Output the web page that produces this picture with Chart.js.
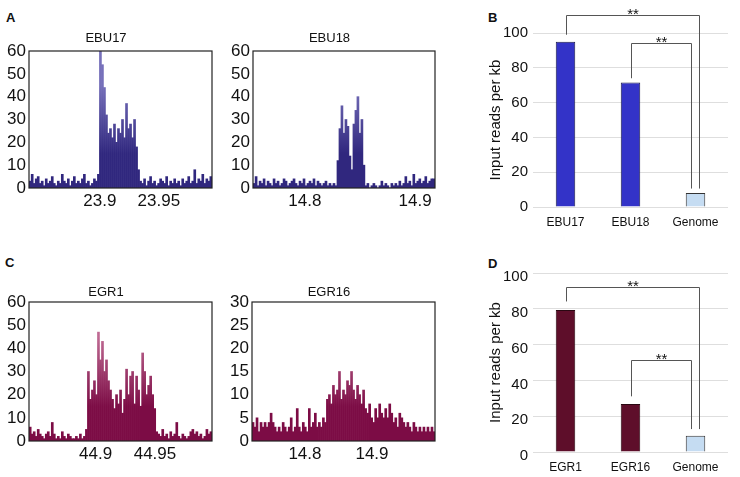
<!DOCTYPE html>
<html>
<head>
<meta charset="utf-8">
<script src="https://cdn.jsdelivr.net/npm/chart.js@4.4.1/dist/chart.umd.min.js"></script>
<style>
  body { margin: 0; background: #fff; width: 740px; height: 477px; position: relative; overflow: hidden; font-family: "Liberation Sans", Arial, sans-serif; }
  .p { position: absolute; }
  .lbl { position: absolute; font-weight: bold; font-size: 13px; line-height: 13px; color: #111; }
</style>
</head>
<body>
<div class="lbl" style="left:6px;top:11px">A</div>
<div class="lbl" style="left:488px;top:11px">B</div>
<div class="lbl" style="left:5px;top:256px">C</div>
<div class="lbl" style="left:488px;top:257px">D</div>

<div class="p" style="left:0;top:25px"><canvas id="ebu17" width="220" height="190"></canvas></div>
<div class="p" style="left:224px;top:25px"><canvas id="ebu18" width="220" height="190"></canvas></div>
<div class="p" style="left:460px;top:0"><canvas id="ebuBar" width="280" height="235"></canvas></div>
<div class="p" style="left:0;top:276px"><canvas id="egr1" width="220" height="192"></canvas></div>
<div class="p" style="left:223px;top:276px"><canvas id="egr16" width="221" height="192"></canvas></div>
<div class="p" style="left:460px;top:240px"><canvas id="egrBar" width="280" height="237"></canvas></div>

<script>
const FONT = '"Liberation Sans", Arial, sans-serif';

// coverage tracks: reads per bin (left to right), bin start (Mb) and bin size (Mb)
const ebu17Range = [23.84, 23.995];
const ebu17Start = 23.841, ebu17Bin = 0.0017;
const ebu17Ticks = [23.9, 23.95];
const ebu17Reads = [3,6,2,4,5,2,3,1,4,2,3,5,2,1,3,2,6,3,2,4,1,3,5,2,3,2,4,6,2,3,1,2,4,3,6,
  60,54,44,32,24,26,22,28,20,26,24,30,22,37,26,28,22,30,18,
  8,
  3,2,4,1,3,5,2,3,1,2,4,3,2,5,1,3,2,4,2,3,1,4,2,3,5,2,3,8,2,4,3,6,2,4,3,5];

const ebu18Range = [14.753, 14.918];
const ebu18Start = 14.754, ebu18Bin = 0.00181;
const ebu18Ticks = [14.8, 14.9];
const ebu18Reads = [2,5,1,3,2,4,1,3,2,1,4,2,3,1,2,4,3,1,2,3,4,2,1,3,2,4,1,2,3,2,4,1,3,2,1,2,3,1,2,1,2,1,
  12,26,36,24,30,27,14,8,28,34,40,24,30,10,
  1,2,0,1,2,1,0,1,3,1,2,1,0,2,1,2,1,3,1,2,5,2,3,1,6,2,3,4,2,3,5,2,3,4,4];

const egr1Range = [44.844, 44.998];
const egr1Start = 44.845, egr1Bin = 0.00169;
const egr1Ticks = [44.9, 44.95];
const egr1Reads = [6,3,4,2,5,3,2,1,3,4,2,8,3,1,2,1,4,2,1,3,2,1,1,2,1,3,1,2,5,
  30,18,22,26,20,47,35,43,30,35,26,22,18,14,20,16,22,12,18,31,20,28,30,16,28,22,15,38,30,20,24,28,20,14,
  4,3,2,5,2,3,1,4,2,3,8,2,1,3,2,1,2,4,5,3,4,2,3,1,2,5,3,4];

const egr16Range = [14.721, 14.994];
const egr16Start = 14.7225, egr16Bin = 0.003;
const egr16Ticks = [14.8, 14.9];
const egr16Reads = [4,3,5,2,4,3,4,3,4,6,4,3,2,3,2,4,3,2,3,5,2,3,7,3,2,4,3,2,7,3,4,6,3,4,3,5,4,
  9,10,8,12,10,11,15,9,11,10,13,12,15,11,9,12,10,8,11,7,
  6,8,5,4,7,5,8,6,5,7,5,8,6,4,5,3,6,5,4,3,4,3,2,4,3,2,3,2,3,2,3,2,3,2];

// bar panels
const ebuCats = ['EBU17', 'EBU18', 'Genome'];
const ebuVals = [95, 71.5, 8];
const egrCats = ['EGR1', 'EGR16', 'Genome'];
const egrVals = [79.3, 26.8, 9.1];

// significance brackets: [fromIndex, toIndex, top, fromEnd, toEnd]
const ebuBrackets = [[0, 2, 110.6, 99, 10.6], [1, 2, 94.2, 74, 10.6]];
const egrBrackets = [[0, 2, 92.1, 84.1, 12.8], [1, 2, 51.5, 31.1, 12.8]];

function fade(ctx, dark, light) {
  const a = ctx.chart.chartArea;
  if (!a) return dark;
  const g = ctx.chart.ctx.createLinearGradient(0, a.bottom, 0, a.top);
  g.addColorStop(0, dark);
  g.addColorStop(0.25, dark);
  g.addColorStop(0.75, light);
  g.addColorStop(1, light);
  return g;
}

const frame = {
  id: 'frame',
  afterDraw(chart) {
    const { ctx, chartArea: a } = chart;
    ctx.save();
    ctx.strokeStyle = '#222';
    ctx.lineWidth = 1.2;
    ctx.strokeRect(a.left, a.top, a.right - a.left, a.bottom - a.top);
    ctx.restore();
  }
};

function trackChart(id, title, titlePad, rightPad, range, start, bin, reads, yMax, yStep, xTicks, dark, light) {
  const pts = reads.map((v, i) => ({ x: start + i * bin, y: v }));
  new Chart(document.getElementById(id), {
    type: 'bar',
    data: {
      datasets: [{
        data: pts,
        backgroundColor: (c) => fade(c, dark, light),
        borderWidth: 0,
        barPercentage: 1,
        categoryPercentage: 1
      }]
    },
    options: {
      responsive: false,
      animation: false,
      layout: { padding: { left: 0, right: rightPad, top: 0, bottom: 0 } },
      plugins: {
        legend: { display: false },
        tooltip: { enabled: false },
        title: { display: true, text: title, color: '#111', font: { family: FONT, size: 13, weight: 'normal' }, padding: titlePad }
      },
      scales: {
        x: {
          type: 'linear', min: range[0], max: range[1], offset: false,
          grid: { display: false, drawTicks: false }, border: { display: false },
          afterBuildTicks: (s) => { s.ticks = xTicks.map(v => ({ value: v })); },
          afterFit: (s) => { s.height = 27; },
          ticks: { color: '#111', font: { family: FONT, size: 17 }, padding: 3, maxRotation: 0, autoSkip: false, callback: (v) => String(v) }
        },
        y: {
          min: 0, max: yMax,
          grid: { display: false, drawTicks: false }, border: { display: false },
          afterFit: (s) => { s.width = 29; s.paddingTop = 0; s.paddingBottom = 0; },
          ticks: { stepSize: yStep, autoSkip: false, color: '#111', font: { family: FONT, size: 17 }, padding: 3 }
        }
      }
    },
    plugins: [frame]
  });
}

function bracketPlugin(brackets) {
  const shifts = [3, -5];
  return {
    id: 'brackets',
    afterDraw(chart) {
      const { ctx } = chart;
      const xs = chart.scales.x, ys = chart.scales.y;
      ctx.save();
      ctx.strokeStyle = '#555';
      ctx.lineWidth = 1;
      ctx.fillStyle = '#111';
      ctx.font = '15px ' + FONT;
      ctx.textAlign = 'center';
      ctx.textBaseline = 'alphabetic';
      brackets.forEach((b, k) => {
        const x1 = Math.round(xs.getPixelForValue(b[0])) + 0.5;
        const x2 = Math.round(xs.getPixelForValue(b[1]) + shifts[k]) + 0.5;
        const yt = Math.round(ys.getPixelForValue(b[2])) + 0.5;
        ctx.beginPath();
        ctx.moveTo(x1, ys.getPixelForValue(b[3]));
        ctx.lineTo(x1, yt);
        ctx.lineTo(x2, yt);
        ctx.lineTo(x2, ys.getPixelForValue(b[4]));
        ctx.stroke();
        ctx.fillText('**', (x1 + x2) / 2, yt + 3);
      });
      ctx.restore();
    }
  };
}

function barChart(id, cats, vals, color, border, brackets, bottomH, labelShift) {
  new Chart(document.getElementById(id), {
    type: 'bar',
    data: {
      labels: cats,
      datasets: [{
        data: vals,
        backgroundColor: [color, color, '#c5dcf2'],
        borderColor: [border, border, '#333'],
        borderWidth: 1,
        borderSkipped: 'bottom',
        barPercentage: 0.6,
        categoryPercentage: 0.5
      }]
    },
    options: {
      responsive: false,
      animation: false,
      layout: { padding: { left: 0, right: 12, top: 33, bottom: 0 } },
      plugins: { legend: { display: false }, tooltip: { enabled: false } },
      scales: {
        x: {
          grid: { display: false, drawTicks: false }, border: { display: false },
          afterFit: (s) => { s.height = bottomH; },
          ticks: { color: '#111', font: { family: FONT, size: 12 }, padding: 8 }
        },
        y: {
          min: 0, max: 100,
          grid: { color: '#dedede', drawTicks: false }, border: { display: false },
          afterFit: (s) => { s.width = 73; },
          title: { display: true, text: 'Input reads per kb', color: '#111', font: { family: FONT, size: 15 }, padding: { top: 27, bottom: 0 } },
          ticks: { stepSize: 20, color: '#111', font: { family: FONT, size: 15 }, padding: 5, labelOffset: labelShift }
        }
      }
    },
    plugins: [bracketPlugin(brackets)]
  });
}

trackChart('ebu17', 'EBU17', { top: 6, bottom: 4.4 }, 8, ebu17Range, ebu17Start, ebu17Bin, ebu17Reads, 60, 10, ebu17Ticks, '#30277e', '#7670ba');
trackChart('ebu18', 'EBU18', { top: 6, bottom: 4.4 }, 9, ebu18Range, ebu18Start, ebu18Bin, ebu18Reads, 60, 10, ebu18Ticks, '#30277e', '#7670ba');
trackChart('egr1', 'EGR1', { top: 9, bottom: 1.4 }, 8, egr1Range, egr1Start, egr1Bin, egr1Reads, 60, 10, egr1Ticks, '#7c0c45', '#bf6a93');
trackChart('egr16', 'EGR16', { top: 9, bottom: 1.4 }, 9, egr16Range, egr16Start, egr16Bin, egr16Reads, 30, 5, egr16Ticks, '#7c0c45', '#bf6a93');

barChart('ebuBar', ebuCats, ebuVals, '#3333c8', '#1c1c4a', ebuBrackets, 28, 0);
barChart('egrBar', egrCats, egrVals, '#5e0e2a', '#2a0812', egrBrackets, 25, 4);
</script>
</body>
</html>
